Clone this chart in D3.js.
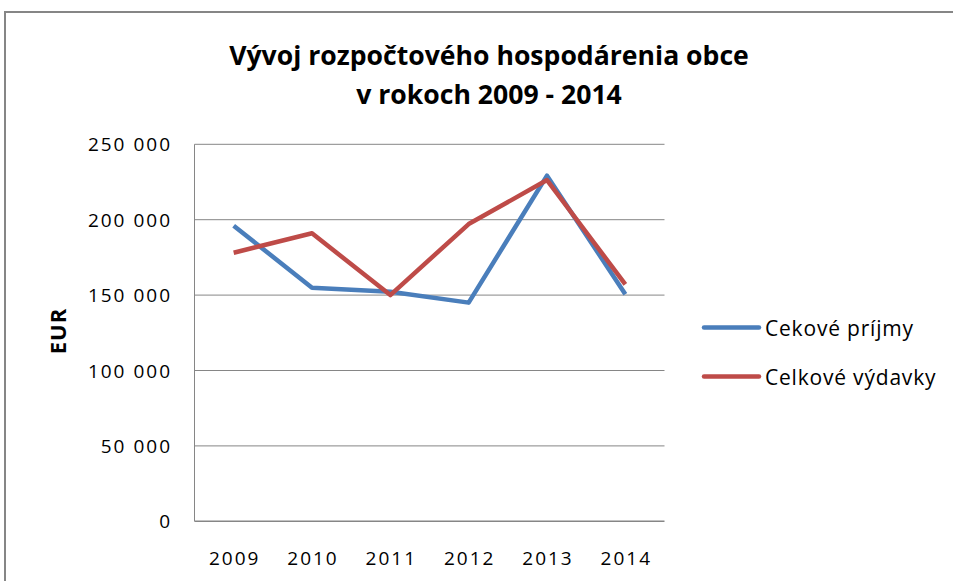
<!doctype html>
<html lang="sk">
<head>
  <meta charset="utf-8">
  <title>Vývoj rozpočtového hospodárenia obce</title>
  <style>
    body { margin: 0; background: #fff; }
    svg { display: block; font-family: "Open Sans", sans-serif; }
    .grid line { stroke: #868686; stroke-width: 1; }
    .tick-label { font-size: 19px; letter-spacing: 2px; fill: #000; }
    .legend-label { font-size: 21px; letter-spacing: 0.8px; fill: #000; }
  </style>
</head>
<body>
  <div id="chart"></div>

  <script src="https://d3js.org/d3.v7.min.js"></script>
  <script>
    // data
    const years = ['2009', '2010', '2011', '2012', '2013', '2014'];
    const prijmy = [196000, 154900, 152200, 145000, 229200, 150600];
    const vydavky = [178100, 191000, 150000, 197100, 226300, 157100];
    const seriesNames = ['Cekové príjmy', 'Celkové výdavky'];
    const seriesColors = ['#4A7EBB', '#BE4B48'];
    const yTicks = [0, 50000, 100000, 150000, 200000, 250000];
    const titleLines = ['Vývoj rozpočtového hospodárenia obce', 'v rokoch 2009 - 2014'];

    const width = 953;
    const height = 581;
    const plot = { left: 194.5, right: 664.5, top: 144.3, bottom: 521.3 };

    const fmt = d3.formatLocale({ decimal: ',', thousands: ' ', grouping: [3], currency: ['', ' €'] }).format(',d');

    const svg = d3.select('#chart').append('svg')
      .attr('width', width)
      .attr('height', height);

    svg.append('rect').attr('width', width).attr('height', height).attr('fill', '#fff');

    // outer chart frame (left and top edge visible)
    svg.append('path')
      .attr('d', `M5,${height} L5,12 L${width},12`)
      .attr('fill', 'none')
      .attr('stroke', '#868686')
      .attr('stroke-width', 2);

    const x = d3.scaleBand().domain(years).range([plot.left, plot.right]);
    const y = d3.scaleLinear().domain([0, 250000]).range([plot.bottom, plot.top]);
    const cx = d => x(d) + x.bandwidth() / 2;

    // title
    svg.append('text')
      .attr('text-anchor', 'middle')
      .attr('font-weight', 'bold')
      .attr('font-size', 26.6)
      .selectAll('tspan')
      .data(titleLines)
      .join('tspan')
      .attr('x', 489)
      .attr('y', (d, i) => 65 + i * 39)
      .text(d => d);

    // gridlines
    svg.append('g').attr('class', 'grid')
      .selectAll('line')
      .data(yTicks.filter(d => d > 0))
      .join('line')
      .attr('x1', plot.left).attr('x2', plot.right)
      .attr('y1', d => y(d)).attr('y2', d => y(d));

    // axes lines
    svg.append('line')
      .attr('x1', plot.left).attr('x2', plot.left)
      .attr('y1', plot.top).attr('y2', plot.bottom)
      .attr('stroke', '#868686');
    svg.append('line')
      .attr('x1', plot.left).attr('x2', plot.right)
      .attr('y1', plot.bottom).attr('y2', plot.bottom)
      .attr('stroke', '#868686')
      .attr('stroke-width', 1.6);

    // y tick labels
    svg.append('g')
      .selectAll('text')
      .data(yTicks)
      .join('text')
      .attr('class', 'tick-label')
      .attr('text-anchor', 'end')
      .attr('x', 172)
      .attr('y', d => y(d) + 7)
      .text(d => fmt(d));

    // x tick labels
    svg.append('g')
      .selectAll('text')
      .data(years)
      .join('text')
      .attr('class', 'tick-label')
      .attr('text-anchor', 'middle')
      .attr('x', d => cx(d) + 1)
      .attr('y', 565)
      .text(d => d);

    // y axis title
    svg.append('text')
      .attr('transform', 'translate(66,331) rotate(-90)')
      .attr('text-anchor', 'middle')
      .attr('font-weight', 'bold')
      .attr('font-size', 22)
      .attr('letter-spacing', 1)
      .text('EUR');

    // lines
    const line = d3.line()
      .x((d, i) => cx(years[i]))
      .y(d => y(d));

    [prijmy, vydavky].forEach((vals, i) => {
      svg.append('path')
        .datum(vals)
        .attr('d', line)
        .attr('fill', 'none')
        .attr('stroke', seriesColors[i])
        .attr('stroke-width', 4.5)
        .attr('stroke-linejoin', 'round');
    });

    // legend
    const legend = svg.append('g')
      .selectAll('g')
      .data(seriesNames)
      .join('g')
      .attr('transform', (d, i) => `translate(704,${327.5 + i * 49})`);

    legend.append('line')
      .attr('x1', 0).attr('x2', 55)
      .attr('stroke', (d, i) => seriesColors[i])
      .attr('stroke-width', 4.5)
      .attr('stroke-linecap', 'round');

    legend.append('text')
      .attr('class', 'legend-label')
      .attr('x', 61)
      .attr('y', 8)
      .text(d => d);
  </script>
</body>
</html>
